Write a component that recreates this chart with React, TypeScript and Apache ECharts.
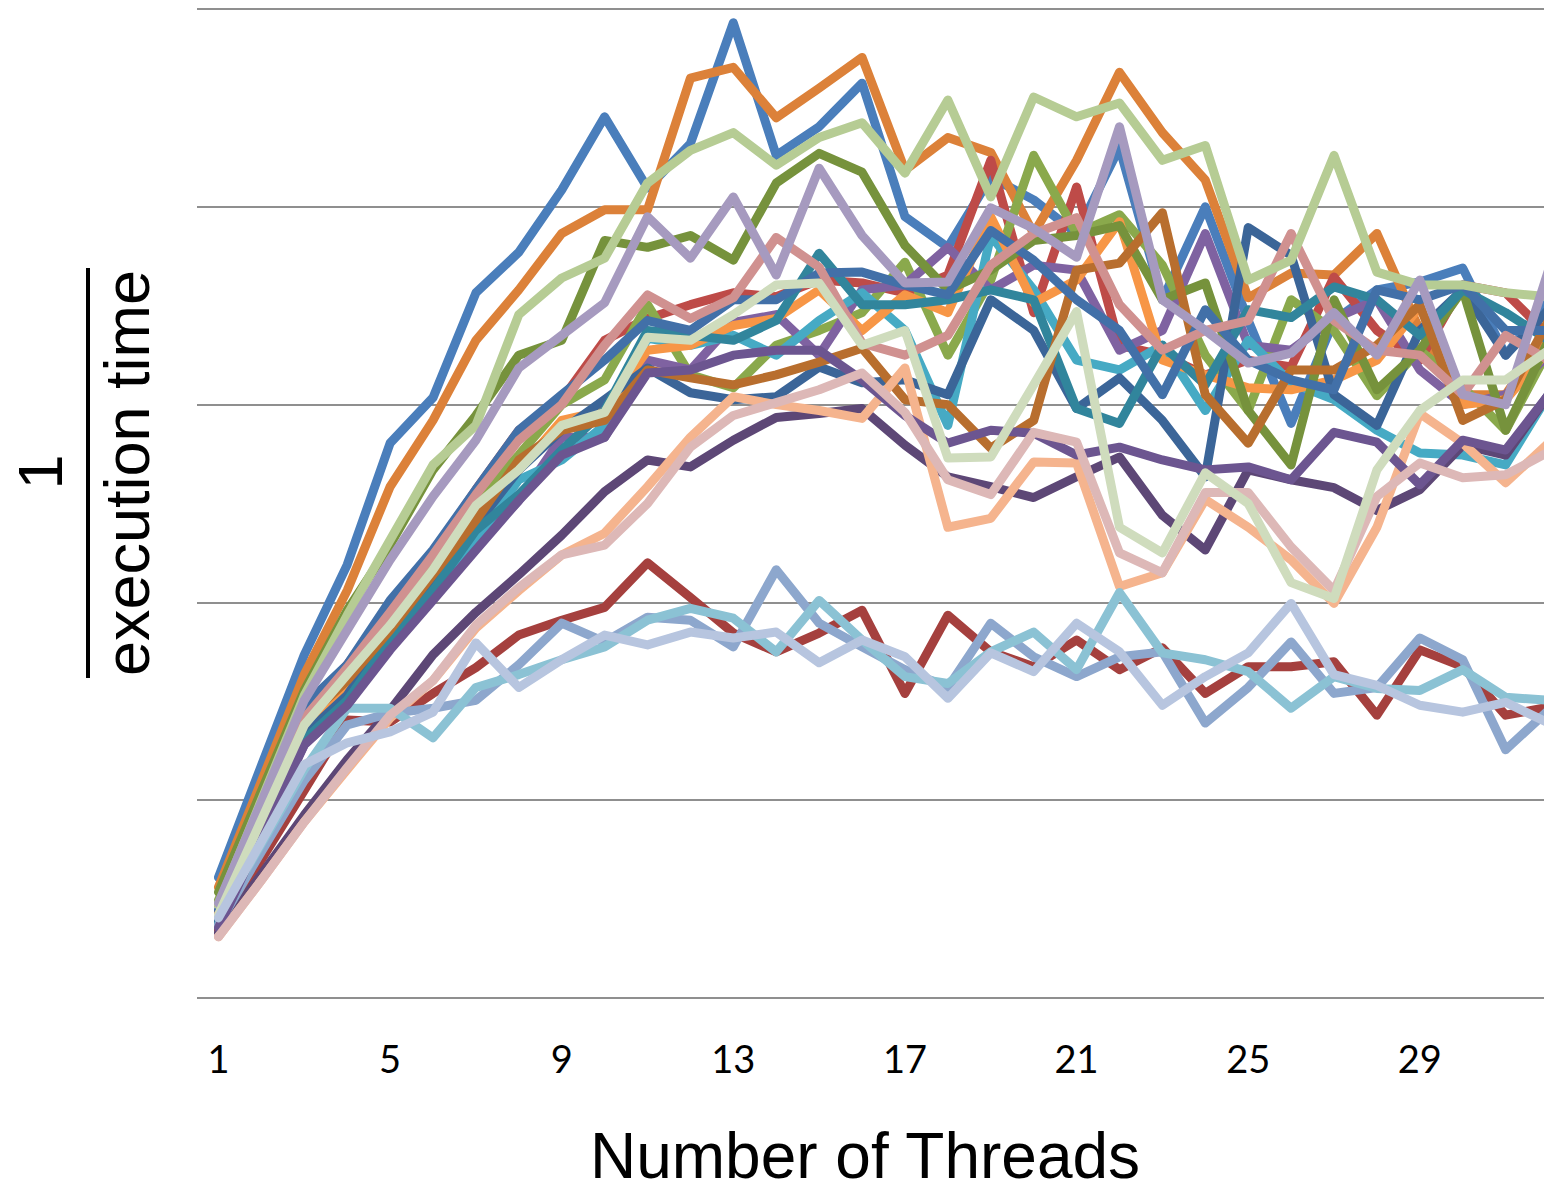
import React, { useEffect, useRef } from "react";
import * as echarts from "echarts";

const threads = ["1","2","3","4","5","6","7","8","9","10","11","12","13","14","15","16","17","18","19","20","21","22","23","24","25","26","27","28","29","30","31","32"];

const blue = [122,235,347,438,561,607,713,754,817,891,819,864,986,852,881,925,790,759,830,807,773,860,706,800,685,581,685,716,724,738,650,706];
const orange = [112,219,327,412,517,584,665,716,773,797,797,930,941,890,920,951,837,870,855,773,847,936,875,827,708,733,731,773,675,610,610,675];
const red = [87,187,286,337,395,450,514,574,605,665,687,701,713,709,726,723,713,731,847,693,820,660,650,630,645,638,729,675,645,721,713,670];
const greenMid = [99,192,286,332,387,443,503,549,600,625,701,630,617,660,675,693,744,650,726,852,773,792,741,650,594,706,675,609,655,618,574,655];
const purple = [74,165,256,296,357,407,458,503,567,567,645,635,683,691,650,716,721,759,716,741,736,655,675,773,660,655,687,706,635,600,610,650];
const aqua = [77,169,261,306,364,418,463,524,544,579,667,660,670,650,685,713,675,579,771,716,645,635,660,594,665,622,605,574,551,549,539,610];
const brightOrange = [87,179,271,316,374,425,491,534,584,594,655,660,680,687,716,675,711,693,790,703,726,785,645,630,617,615,625,645,699,600,605,655];
const darkBlue = [79,172,266,306,370,423,478,534,574,605,637,612,605,608,638,622,625,610,706,675,596,627,584,527,779,751,610,579,675,716,650,696];
const darkRed = [69,140,210,281,279,308,334,367,382,395,440,405,369,350,369,392,308,387,350,335,362,332,354,308,335,335,340,286,352,335,286,294];
const olive = [107,209,311,392,458,534,589,650,665,766,759,771,746,824,854,835,761,716,736,766,771,781,706,723,594,539,706,615,655,716,574,665];
const darkPurple = [66,125,185,241,291,347,390,428,468,512,544,537,564,587,591,596,559,527,517,506,527,547,488,453,534,524,516,493,514,559,549,610];
const teal = [74,168,261,301,362,412,473,509,554,594,675,670,665,685,753,701,701,706,716,706,596,581,660,620,696,688,719,706,670,716,693,665];
const brown = [94,187,281,321,372,428,483,544,574,584,635,627,620,630,643,657,605,600,556,584,736,743,794,610,561,635,635,660,701,584,605,685];
const blueMid = [89,192,296,337,402,453,514,574,610,645,685,675,706,706,733,734,721,711,776,746,706,675,610,696,645,625,615,716,706,721,675,675];
const pink = [84,184,283,334,390,448,509,564,600,660,711,687,708,769,739,662,650,670,741,773,789,701,655,675,685,773,685,655,650,610,670,645];
const lightGreen = [94,200,306,387,463,539,579,691,728,748,824,857,875,842,870,885,834,908,810,911,891,905,847,862,726,746,852,734,721,721,713,709];
const lavender = [96,198,301,372,443,507,564,637,670,703,790,748,810,731,839,771,723,724,799,778,749,881,706,675,642,652,693,650,726,610,600,736];
const salmon = [62,119,178,231,283,321,374,412,448,470,517,567,608,600,594,586,637,476,485,542,541,416,430,504,476,443,399,476,591,561,521,561];
const periwinkle = [74,148,220,276,288,293,301,337,379,360,385,382,355,433,379,355,332,314,379,345,325,345,350,278,314,360,308,314,364,342,251,291];
const lightAqua = [81,156,231,293,293,263,314,327,342,355,382,394,384,350,402,362,325,318,350,370,332,410,349,342,330,293,325,313,311,332,304,301];
const purpleMid = [71,164,256,296,352,402,453,503,549,567,632,635,650,655,655,625,589,561,574,571,549,557,544,534,537,524,572,562,519,564,554,610];
const palePink = [62,119,178,233,286,321,377,415,448,458,500,557,589,602,615,632,592,524,509,572,562,450,430,511,511,456,412,507,541,526,529,552];
const paleGreen = [84,180,276,327,377,433,498,534,579,592,668,665,691,721,723,660,675,546,547,620,694,476,450,531,500,420,404,534,594,625,625,655];
const paleBlue = [81,158,236,258,269,289,359,314,342,367,357,370,364,370,339,362,345,303,349,330,379,350,296,325,349,399,327,316,296,289,299,278];

const seriesList: [string, number[], string][] = [
  ["Blue", blue, "#4a7ebb"],
  ["Orange", orange, "#dc8139"],
  ["Red", red, "#be4b48"],
  ["Green", greenMid, "#8aa94c"],
  ["Purple", purple, "#7f62a1"],
  ["Aqua", aqua, "#46aac4"],
  ["Bright orange", brightOrange, "#f79646"],
  ["Dark blue", darkBlue, "#3b6598"],
  ["Dark red", darkRed, "#a5403e"],
  ["Olive", olive, "#76923c"],
  ["Dark purple", darkPurple, "#5d4776"],
  ["Teal", teal, "#31859c"],
  ["Brown", brown, "#b86e2e"],
  ["Mid blue", blueMid, "#4270a8"],
  ["Pink", pink, "#d09190"],
  ["Light green", lightGreen, "#b6cc94"],
  ["Lavender", lavender, "#a69abf"],
  ["Salmon", salmon, "#f5b48e"],
  ["Periwinkle", periwinkle, "#8da7cd"],
  ["Light aqua", lightAqua, "#8bc2d4"],
  ["Mid purple", purpleMid, "#6c5590"],
  ["Pale pink", palePink, "#ddb8b7"],
  ["Pale green", paleGreen, "#cfdcbd"],
  ["Pale blue", paleBlue, "#b7c5df"],
];

export default function App() {
  const ref = useRef<HTMLDivElement>(null);
  useEffect(() => {
    if (!ref.current) return;
    const chart = echarts.init(ref.current, null, { renderer: "svg" });
    chart.setOption({
      animation: false,
      grid: { left: 197, top: 9, width: 1373, height: 989, containLabel: false },
      xAxis: {
        type: "category",
        data: threads,
        boundaryGap: true,
        axisLine: { show: false },
        axisTick: { show: false },
        axisLabel: { interval: 3, fontSize: 38, fontFamily: "Lato", color: "#000", margin: 41 },
        splitLine: { show: false },
      },
      yAxis: {
        type: "value",
        min: 0,
        max: 1000,
        interval: 200,
        axisLine: { show: false },
        axisTick: { show: false },
        axisLabel: { show: false },
        splitLine: { show: true, lineStyle: { color: "#8f8f8f", width: 2 } },
      },
      series: seriesList.map(([name, data, color]) => ({
        name,
        type: "line",
        data,
        symbol: "none",
        silent: true,
        lineStyle: { width: 9, color, cap: "round", join: "round" },
        itemStyle: { color },
        emphasis: { disabled: true },
      })),
      graphic: [
        {
          type: "text",
          x: 40,
          y: 472,
          rotation: Math.PI / 2,
          style: {
            text: "1",
            font: '63px "Liberation Sans", Arial, sans-serif',
            fill: "#000",
            align: "center",
            verticalAlign: "middle",
            textAlign: "center",
            textVerticalAlign: "middle",
          },
        },
        {
          type: "line",
          shape: { x1: 88, y1: 268, x2: 88, y2: 678 },
          style: { stroke: "#000", lineWidth: 4 },
        },
        {
          type: "text",
          x: 127,
          y: 473,
          rotation: Math.PI / 2,
          style: {
            text: "execution time",
            font: '63px "Liberation Sans", Arial, sans-serif',
            fill: "#000",
            align: "center",
            verticalAlign: "middle",
            textAlign: "center",
            textVerticalAlign: "middle",
          },
        },
        {
          type: "text",
          x: 865,
          y: 1156,
          style: {
            text: "Number of Threads",
            font: '64px "Liberation Sans", Arial, sans-serif',
            lineHeight: 56,
            fill: "#000",
            align: "center",
            verticalAlign: "middle",
            textAlign: "center",
            textVerticalAlign: "middle",
          },
        },
      ],
    });
    return () => chart.dispose();
  }, []);
  return (
    <div
      ref={ref}
      style={{ position: "fixed", left: 0, top: 0, width: 1600, height: 1187, background: "#fff" }}
    />
  );
}
